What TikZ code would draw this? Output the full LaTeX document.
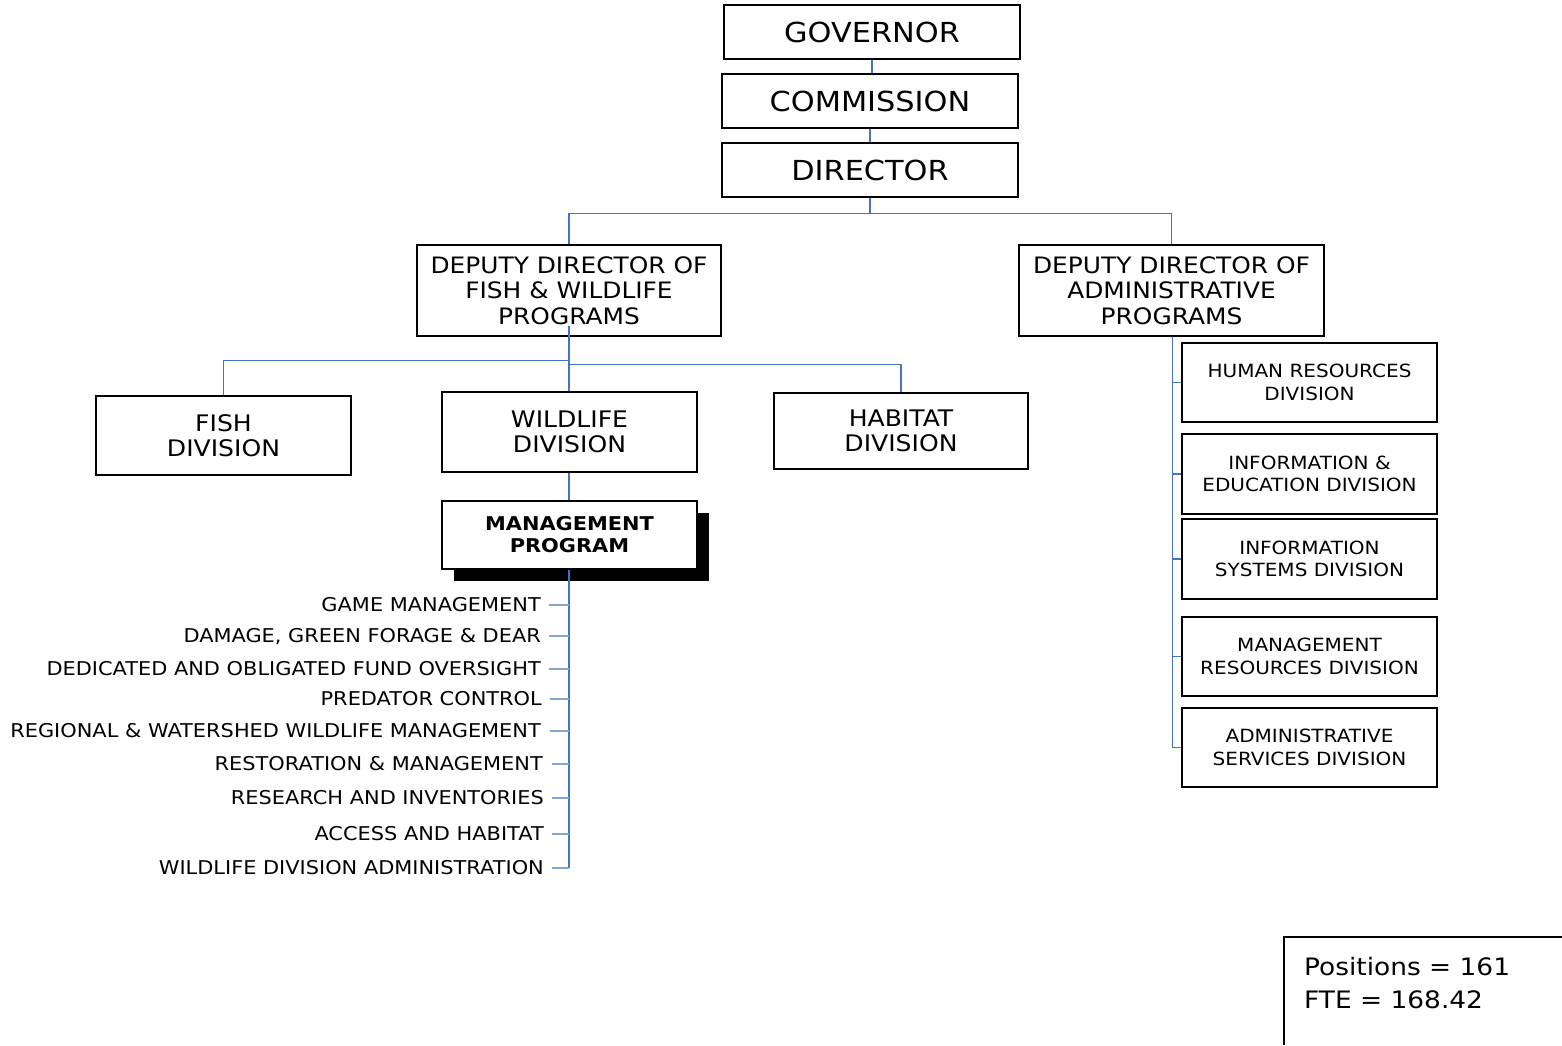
\documentclass[tikz,border=0pt]{standalone}
\usepackage{fontspec}
\setmainfont{DejaVu Sans}[FakeStretch=1.1]
\usetikzlibrary{shadows}
\definecolor{linkblue}{RGB}{68,114,196}
\definecolor{ticblue}{RGB}{130,165,215}
\begin{document}
\begin{tikzpicture}[x=1pt,y=-1pt,
  box/.style={draw=black, line width=1.3pt, fill=white, align=center, inner sep=0pt},
  topbox/.style={box, minimum width=296pt, minimum height=54pt, font=\fontsize{27.6}{32}\selectfont},
  depbox/.style={box, minimum width=304pt, minimum height=91pt, font=\fontsize{22.6}{25.5}\selectfont},
  divbox/.style={box, minimum width=255pt, minimum height=79pt, font=\fontsize{22.8}{25.5}\selectfont},
  subbox/.style={box, minimum width=255pt, minimum height=79pt, font=\fontsize{18.2}{22.7}\selectfont},
  itemtext/.style={anchor=east, inner sep=0pt, text height=13.8pt, text depth=0pt, font=\fontsize{19}{22}\selectfont},
  conn/.style={draw=linkblue, line width=1.1pt},
  tick/.style={draw=ticblue, line width=1.1pt},
]
\useasboundingbox (0,0) rectangle (1562,1045);

% top chain
\node[topbox] (gov) at (872,32) {GOVERNOR};
\node[topbox] (com) at (870,101) {COMMISSION};
\node[topbox] (dir) at (870,170) {DIRECTOR};

% deputies
\node[depbox] (dfw) at (569,290.5) {DEPUTY DIRECTOR OF\\FISH \& WILDLIFE\\PROGRAMS};
\node[depbox, minimum width=305pt] (dad) at (1171.5,290.5) {DEPUTY DIRECTOR OF\\ADMINISTRATIVE\\PROGRAMS};

% divisions
\node[divbox] (fish) at (223.5,435.5) {FISH\\DIVISION};
\node[divbox, minimum height=80pt] (wild) at (569.5,432) {WILDLIFE\\DIVISION};
\node[divbox, minimum width=254pt, minimum height=76pt] (hab) at (901,431) {HABITAT\\DIVISION};

% management program
\node[box, minimum width=255pt, minimum height=68pt,
      font=\fontsize{19}{22}\selectfont\bfseries,
      drop shadow={shadow xshift=11.5pt, shadow yshift=-11.5pt, fill=black, opacity=1}]
      (mgmt) at (569.5,535) {MANAGEMENT\\PROGRAM};

% admin sub-divisions
\node[subbox] (hr) at (1309.5,382.5) {HUMAN RESOURCES\\DIVISION};
\node[subbox, minimum height=80pt] (ie) at (1309.5,474) {INFORMATION \&\\EDUCATION DIVISION};
\node[subbox, minimum height=80pt] (is) at (1309.5,559) {INFORMATION\\SYSTEMS DIVISION};
\node[subbox] (mr) at (1309.5,656.5) {MANAGEMENT\\RESOURCES DIVISION};
\node[subbox] (as) at (1309.5,747.5) {ADMINISTRATIVE\\SERVICES DIVISION};

% program items
\node[itemtext] (i1) at (541,605) {GAME MANAGEMENT};
\node[itemtext] (i2) at (541,636) {DAMAGE, GREEN FORAGE \& DEAR};
\node[itemtext] (i3) at (541,669) {DEDICATED AND OBLIGATED FUND OVERSIGHT};
\node[itemtext] (i4) at (542,699) {PREDATOR CONTROL};
\node[itemtext] (i5) at (541,731) {REGIONAL \& WATERSHED WILDLIFE MANAGEMENT};
\node[itemtext] (i6) at (543,764) {RESTORATION \& MANAGEMENT};
\node[itemtext] (i7) at (544,798) {RESEARCH AND INVENTORIES};
\node[itemtext] (i8) at (544,834) {ACCESS AND HABITAT};
\node[itemtext] (i9) at (544,868) {WILDLIFE DIVISION ADMINISTRATION};

% connectors: top chain
\draw[conn] (gov.south) -- (gov.south |- com.north);
\draw[conn] (com.south) -- (dir.north);
\draw[conn] (dir.south) -- ++(0,16) -| (dfw.north);
\draw[conn] (dir.south) -- ++(0,16) -| (dad.north);

% deputy F&W to divisions
\draw[conn] ([yshift=11pt]dfw.south) -- (dfw.south |- wild.north);
\draw[conn] (dfw.south) ++(0,24) -| (fish.north);
\draw[conn] (dfw.south) ++(0,28) -| (hab.north);
\draw[conn] (wild.south -| dfw.south) -- (mgmt.north -| dfw.south);

% management program to items
\draw[conn] (mgmt.south -| dfw.south) -- (dfw.south |- i9.east);
\foreach \i/\g in {i1/8,i2/8,i3/8,i4/8,i5/9,i6/9,i7/8,i8/8,i9/8}{
  \draw[tick] ([xshift=\g pt]\i.east) -- (\i.east -| dfw.south);
}

% deputy admin to sub-divisions
\draw[conn] ([xshift=1pt]dad.south) -- ([xshift=1pt]dad.south |- as.west) -- (as.west);
\foreach \n in {hr,ie,is,mr}{
  \draw[conn] ([xshift=1pt]dad.south |- \n.west) -- (\n.west);
}

% totals box
\coordinate (fbl) at (1284,1045);
\coordinate (ftl) at (1284,937);
\coordinate (ftr) at (1562,937);
\draw[line width=1.3pt] (fbl) -- (ftl) -- (ftr);
\node[anchor=north west, inner sep=0pt, align=left, font=\fontsize{24}{33}\selectfont] (tot) at (1304,957) {Positions = 161\\FTE = 168.42};
\end{tikzpicture}
\end{document}
